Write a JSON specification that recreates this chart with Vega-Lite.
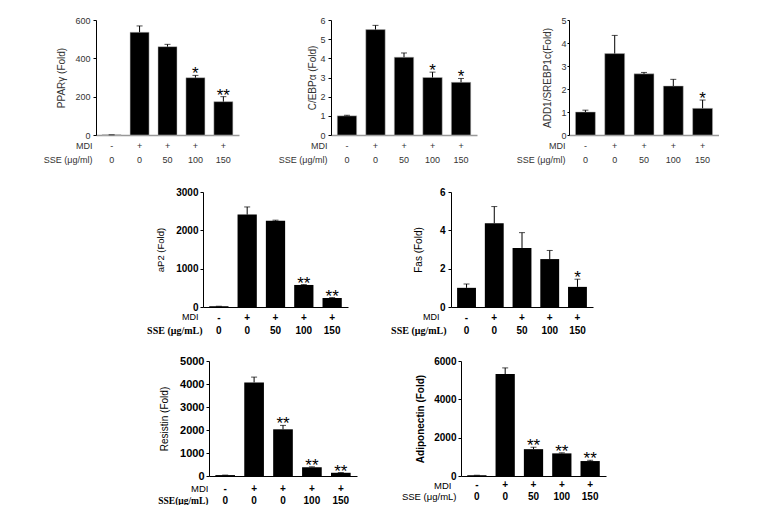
{
  "$schema": "https://vega.github.io/schema/vega-lite/v6.json",
  "padding": {"left": 43, "top": 15, "right": 0, "bottom": 0},
  "background": "white",
  "config": {
    "view": {"stroke": null},
    "font": "Liberation Sans",
    "axis": {"grid": false, "domainColor": "#000", "tickColor": "#000", "labelFont": "Liberation Sans", "titleFont": "Liberation Sans", "labelOverlap": false},
    "text": {"font": "Liberation Sans"}
  },
  "data": {"values": [
    {"panel": "PPARγ", "cat": "-|0", "value": 1, "upper": 1, "sig": ""},
    {"panel": "PPARγ", "cat": "+|0", "value": 536, "upper": 569, "sig": ""},
    {"panel": "PPARγ", "cat": "+|50", "value": 461, "upper": 473, "sig": ""},
    {"panel": "PPARγ", "cat": "+|100", "value": 299, "upper": 311, "sig": "*"},
    {"panel": "PPARγ", "cat": "+|150", "value": 174, "upper": 200, "sig": "**"},
    {"panel": "C/EBPα", "cat": "-|0", "value": 1.0, "upper": 1.03, "sig": ""},
    {"panel": "C/EBPα", "cat": "+|0", "value": 5.5, "upper": 5.72, "sig": ""},
    {"panel": "C/EBPα", "cat": "+|50", "value": 4.06, "upper": 4.28, "sig": ""},
    {"panel": "C/EBPα", "cat": "+|100", "value": 3.0, "upper": 3.28, "sig": "*"},
    {"panel": "C/EBPα", "cat": "+|150", "value": 2.75, "upper": 2.95, "sig": "*"},
    {"panel": "ADD1", "cat": "-|0", "value": 1.0, "upper": 1.08, "sig": ""},
    {"panel": "ADD1", "cat": "+|0", "value": 3.54, "upper": 4.33, "sig": ""},
    {"panel": "ADD1", "cat": "+|50", "value": 2.66, "upper": 2.72, "sig": ""},
    {"panel": "ADD1", "cat": "+|100", "value": 2.13, "upper": 2.42, "sig": ""},
    {"panel": "ADD1", "cat": "+|150", "value": 1.16, "upper": 1.52, "sig": "*"},
    {"panel": "aP2", "cat": "-|0", "value": 20, "upper": 20, "sig": ""},
    {"panel": "aP2", "cat": "+|0", "value": 2410, "upper": 2610, "sig": ""},
    {"panel": "aP2", "cat": "+|50", "value": 2250, "upper": 2265, "sig": ""},
    {"panel": "aP2", "cat": "+|100", "value": 575, "upper": 585, "sig": "**"},
    {"panel": "aP2", "cat": "+|150", "value": 235, "upper": 245, "sig": "**"},
    {"panel": "Fas", "cat": "-|0", "value": 1.0, "upper": 1.2, "sig": ""},
    {"panel": "Fas", "cat": "+|0", "value": 4.37, "upper": 5.24, "sig": ""},
    {"panel": "Fas", "cat": "+|50", "value": 3.08, "upper": 3.88, "sig": ""},
    {"panel": "Fas", "cat": "+|100", "value": 2.5, "upper": 2.95, "sig": ""},
    {"panel": "Fas", "cat": "+|150", "value": 1.05, "upper": 1.45, "sig": "*"},
    {"panel": "Resistin", "cat": "-|0", "value": 40, "upper": 40, "sig": ""},
    {"panel": "Resistin", "cat": "+|0", "value": 4070, "upper": 4300, "sig": ""},
    {"panel": "Resistin", "cat": "+|0|b", "value": 2030, "upper": 2200, "sig": "**"},
    {"panel": "Resistin", "cat": "+|100", "value": 380, "upper": 400, "sig": "**"},
    {"panel": "Resistin", "cat": "+|150", "value": 140, "upper": 150, "sig": "**"},
    {"panel": "Adiponectin", "cat": "-|0", "value": 40, "upper": 40, "sig": ""},
    {"panel": "Adiponectin", "cat": "+|0", "value": 5320, "upper": 5640, "sig": ""},
    {"panel": "Adiponectin", "cat": "+|50", "value": 1400, "upper": 1500, "sig": "**"},
    {"panel": "Adiponectin", "cat": "+|100", "value": 1180, "upper": 1210, "sig": "**"},
    {"panel": "Adiponectin", "cat": "+|150", "value": 780, "upper": 820, "sig": "**"}
  ]},
  "spacing": 20,
  "vconcat": [
    {
      "spacing": 23,
      "vconcat": [
        {
          "spacing": 39,
          "hconcat": [
            {
              "width": 143, "height": 115,
              "transform": [{"filter": "datum.panel === 'PPARγ'"}],
              "layer": [
                {"mark": {"type": "bar", "color": "#000", "stroke": "#bbb", "strokeWidth": 0.5},
                 "encoding": {
                   "x": {"field": "cat", "type": "nominal", "sort": null, "scale": {"paddingInner": 0.32, "paddingOuter": 0.22},
                         "axis": {"orient": "bottom", "domainColor": "#999", "domainWidth": 1.5, "ticks": false, "tickSize": 0, "labelPadding": 6, "labelAngle": 0, "labelExpr": "split(datum.value, '|')[0]", "labelFontSize": 9, "labelColor": "#333", "title": "MDI", "titleX": -4, "titleY": 6, "titleAlign": "right", "titleBaseline": "top", "titleFontSize": 9, "titleFontWeight": "normal", "titleColor": "#333"}},
                   "y": {"field": "value", "type": "quantitative", "scale": {"domain": [0, 600]},
                         "axis": {"values": [0, 200, 400, 600], "format": "d", "labelOverlap": false, "tickSize": 3, "labelPadding": 3, "labelFontSize": 9, "labelColor": "#333", "title": "PPARγ (Fold)", "titleFontSize": 10, "titleFontWeight": "normal", "titleColor": "#333", "titlePadding": 8}}
                 }},
                {"mark": {"type": "rule", "color": "#000", "strokeWidth": 1},
                 "encoding": {
                   "x": {"field": "cat", "type": "nominal", "sort": null,
                         "axis": {"orient": "bottom", "offset": 14, "domain": false, "ticks": false, "tickSize": 0, "labelPadding": 6, "labelAngle": 0, "labelExpr": "split(datum.value, '|')[1]", "labelFontSize": 9, "labelColor": "#333", "title": "SSE (μg/ml)", "titleX": -4, "titleY": 6, "titleAlign": "right", "titleBaseline": "top", "titleFontSize": 9, "titleFontWeight": "normal", "titleColor": "#333"}},
                   "y": {"field": "value", "type": "quantitative", "scale": {"domain": [0, 600]},
                         "axis": {"values": [0, 200, 400, 600], "format": "d", "labelOverlap": false, "tickSize": 3, "labelPadding": 3, "labelFontSize": 9, "labelColor": "#333", "title": "PPARγ (Fold)", "titleFontSize": 10, "titleFontWeight": "normal", "titleColor": "#333", "titlePadding": 8}},
                   "y2": {"field": "upper"}
                 }},
                {"mark": {"type": "tick", "orient": "horizontal", "size": 6, "thickness": 1, "color": "#000"},
                 "encoding": {
                   "x": {"field": "cat", "type": "nominal", "sort": null, "axis": null},
                   "y": {"field": "upper", "type": "quantitative", "scale": {"domain": [0, 600]},
                         "axis": {"values": [0, 200, 400, 600], "format": "d", "labelOverlap": false, "tickSize": 3, "labelPadding": 3, "labelFontSize": 9, "labelColor": "#333", "title": "PPARγ (Fold)", "titleFontSize": 10, "titleFontWeight": "normal", "titleColor": "#333", "titlePadding": 8}}
                 }},
                {"mark": {"type": "text", "fontSize": 17, "baseline": "alphabetic", "dy": 4, "color": "#000"},
                 "encoding": {
                   "x": {"field": "cat", "type": "nominal", "sort": null, "axis": null},
                   "y": {"field": "upper", "type": "quantitative", "scale": {"domain": [0, 600]},
                         "axis": {"values": [0, 200, 400, 600], "format": "d", "labelOverlap": false, "tickSize": 3, "labelPadding": 3, "labelFontSize": 9, "labelColor": "#333", "title": "PPARγ (Fold)", "titleFontSize": 10, "titleFontWeight": "normal", "titleColor": "#333", "titlePadding": 8}},
                   "text": {"field": "sig"}
                 }}
              ],
              "resolve": {"axis": {"x": "independent"}}
            },
            {
              "width": 146, "height": 115,
              "transform": [{"filter": "datum.panel === 'C/EBPα'"}],
              "layer": [
                {"mark": {"type": "bar", "color": "#000", "stroke": "#bbb", "strokeWidth": 0.5},
                 "encoding": {
                   "x": {"field": "cat", "type": "nominal", "sort": null, "scale": {"paddingInner": 0.32, "paddingOuter": 0.22},
                         "axis": {"orient": "bottom", "domainColor": "#999", "domainWidth": 1.5, "ticks": false, "tickSize": 0, "labelPadding": 6, "labelAngle": 0, "labelExpr": "split(datum.value, '|')[0]", "labelFontSize": 9, "labelColor": "#333", "title": "MDI", "titleX": -4, "titleY": 6, "titleAlign": "right", "titleBaseline": "top", "titleFontSize": 9, "titleFontWeight": "normal", "titleColor": "#333"}},
                   "y": {"field": "value", "type": "quantitative", "scale": {"domain": [0, 6]},
                         "axis": {"values": [0, 1, 2, 3, 4, 5, 6], "format": "d", "labelOverlap": false, "tickSize": 3, "labelPadding": 3, "labelFontSize": 9, "labelColor": "#333", "title": "C/EBPα (Fold)", "titleFontSize": 10, "titleFontWeight": "normal", "titleColor": "#333", "titlePadding": 2}}
                 }},
                {"mark": {"type": "rule", "color": "#000", "strokeWidth": 1},
                 "encoding": {
                   "x": {"field": "cat", "type": "nominal", "sort": null,
                         "axis": {"orient": "bottom", "offset": 14, "domain": false, "ticks": false, "tickSize": 0, "labelPadding": 6, "labelAngle": 0, "labelExpr": "split(datum.value, '|')[1]", "labelFontSize": 9, "labelColor": "#333", "title": "SSE (μg/ml)", "titleX": -4, "titleY": 6, "titleAlign": "right", "titleBaseline": "top", "titleFontSize": 9, "titleFontWeight": "normal", "titleColor": "#333"}},
                   "y": {"field": "value", "type": "quantitative", "scale": {"domain": [0, 6]},
                         "axis": {"values": [0, 1, 2, 3, 4, 5, 6], "format": "d", "labelOverlap": false, "tickSize": 3, "labelPadding": 3, "labelFontSize": 9, "labelColor": "#333", "title": "C/EBPα (Fold)", "titleFontSize": 10, "titleFontWeight": "normal", "titleColor": "#333", "titlePadding": 2}},
                   "y2": {"field": "upper"}
                 }},
                {"mark": {"type": "tick", "orient": "horizontal", "size": 6, "thickness": 1, "color": "#000"},
                 "encoding": {
                   "x": {"field": "cat", "type": "nominal", "sort": null, "axis": null},
                   "y": {"field": "upper", "type": "quantitative", "scale": {"domain": [0, 6]},
                         "axis": {"values": [0, 1, 2, 3, 4, 5, 6], "format": "d", "labelOverlap": false, "tickSize": 3, "labelPadding": 3, "labelFontSize": 9, "labelColor": "#333", "title": "C/EBPα (Fold)", "titleFontSize": 10, "titleFontWeight": "normal", "titleColor": "#333", "titlePadding": 2}}
                 }},
                {"mark": {"type": "text", "fontSize": 17, "baseline": "alphabetic", "dy": 4, "color": "#000"},
                 "encoding": {
                   "x": {"field": "cat", "type": "nominal", "sort": null, "axis": null},
                   "y": {"field": "upper", "type": "quantitative", "scale": {"domain": [0, 6]},
                         "axis": {"values": [0, 1, 2, 3, 4, 5, 6], "format": "d", "labelOverlap": false, "tickSize": 3, "labelPadding": 3, "labelFontSize": 9, "labelColor": "#333", "title": "C/EBPα (Fold)", "titleFontSize": 10, "titleFontWeight": "normal", "titleColor": "#333", "titlePadding": 2}},
                   "text": {"field": "sig"}
                 }}
              ],
              "resolve": {"axis": {"x": "independent"}}
            },
            {
              "width": 150, "height": 115,
              "transform": [{"filter": "datum.panel === 'ADD1'"}],
              "layer": [
                {"mark": {"type": "bar", "color": "#000", "stroke": "#bbb", "strokeWidth": 0.5},
                 "encoding": {
                   "x": {"field": "cat", "type": "nominal", "sort": null, "scale": {"paddingInner": 0.32, "paddingOuter": 0.22},
                         "axis": {"orient": "bottom", "domainColor": "#999", "domainWidth": 1.5, "ticks": false, "tickSize": 0, "labelPadding": 6, "labelAngle": 0, "labelExpr": "split(datum.value, '|')[0]", "labelFontSize": 9, "labelColor": "#333", "title": "MDI", "titleX": -4, "titleY": 6, "titleAlign": "right", "titleBaseline": "top", "titleFontSize": 9, "titleFontWeight": "normal", "titleColor": "#333"}},
                   "y": {"field": "value", "type": "quantitative", "scale": {"domain": [0, 5]},
                         "axis": {"values": [0, 1, 2, 3, 4, 5], "format": "d", "labelOverlap": false, "tickSize": 2, "labelPadding": 1, "labelFontSize": 9, "labelColor": "#333", "title": "ADD1/SREBP1c(Fold)", "titleFontSize": 10, "titleFontWeight": "normal", "titleColor": "#333", "titlePadding": 8}}
                 }},
                {"mark": {"type": "rule", "color": "#000", "strokeWidth": 1},
                 "encoding": {
                   "x": {"field": "cat", "type": "nominal", "sort": null,
                         "axis": {"orient": "bottom", "offset": 14, "domain": false, "ticks": false, "tickSize": 0, "labelPadding": 6, "labelAngle": 0, "labelExpr": "split(datum.value, '|')[1]", "labelFontSize": 9, "labelColor": "#333", "title": "SSE (μg/ml)", "titleX": -4, "titleY": 6, "titleAlign": "right", "titleBaseline": "top", "titleFontSize": 9, "titleFontWeight": "normal", "titleColor": "#333"}},
                   "y": {"field": "value", "type": "quantitative", "scale": {"domain": [0, 5]},
                         "axis": {"values": [0, 1, 2, 3, 4, 5], "format": "d", "labelOverlap": false, "tickSize": 2, "labelPadding": 1, "labelFontSize": 9, "labelColor": "#333", "title": "ADD1/SREBP1c(Fold)", "titleFontSize": 10, "titleFontWeight": "normal", "titleColor": "#333", "titlePadding": 8}},
                   "y2": {"field": "upper"}
                 }},
                {"mark": {"type": "tick", "orient": "horizontal", "size": 6, "thickness": 1, "color": "#000"},
                 "encoding": {
                   "x": {"field": "cat", "type": "nominal", "sort": null, "axis": null},
                   "y": {"field": "upper", "type": "quantitative", "scale": {"domain": [0, 5]},
                         "axis": {"values": [0, 1, 2, 3, 4, 5], "format": "d", "labelOverlap": false, "tickSize": 2, "labelPadding": 1, "labelFontSize": 9, "labelColor": "#333", "title": "ADD1/SREBP1c(Fold)", "titleFontSize": 10, "titleFontWeight": "normal", "titleColor": "#333", "titlePadding": 8}}
                 }},
                {"mark": {"type": "text", "fontSize": 17, "baseline": "alphabetic", "dy": 4, "color": "#000"},
                 "encoding": {
                   "x": {"field": "cat", "type": "nominal", "sort": null, "axis": null},
                   "y": {"field": "upper", "type": "quantitative", "scale": {"domain": [0, 5]},
                         "axis": {"values": [0, 1, 2, 3, 4, 5], "format": "d", "labelOverlap": false, "tickSize": 2, "labelPadding": 1, "labelFontSize": 9, "labelColor": "#333", "title": "ADD1/SREBP1c(Fold)", "titleFontSize": 10, "titleFontWeight": "normal", "titleColor": "#333", "titlePadding": 8}},
                   "text": {"field": "sig"}
                 }}
              ],
              "resolve": {"axis": {"x": "independent"}}
            }
          ]
        },
        {
          "spacing": 42,
          "hconcat": [
            {"width": 8, "height": 10, "mark": {"type": "point", "opacity": 0}, "encoding": {}},
            {
              "width": 145, "height": 115,
              "transform": [{"filter": "datum.panel === 'aP2'"}],
              "layer": [
                {"mark": {"type": "bar", "color": "#000"},
                 "encoding": {
                   "x": {"field": "cat", "type": "nominal", "sort": null, "scale": {"paddingInner": 0.32, "paddingOuter": 0.22},
                         "axis": {"orient": "bottom", "ticks": false, "tickSize": 0, "labelPadding": 5, "labelAngle": 0, "labelExpr": "split(datum.value, '|')[0]", "labelFontSize": 10, "labelFontWeight": "bold", "labelColor": "#000", "title": "MDI", "titleX": -5, "titleY": 5, "titleAlign": "right", "titleBaseline": "top", "titleFontSize": 9, "titleFontWeight": "normal", "titleColor": "#000"}},
                   "y": {"field": "value", "type": "quantitative", "scale": {"domain": [0, 3000]},
                         "axis": {"values": [0, 1000, 2000, 3000], "format": "d", "labelOverlap": false, "tickSize": 3, "labelPadding": 2, "labelFontSize": 10, "labelFontWeight": "bold", "labelColor": "#000", "title": "aP2 (Fold)", "titleFontSize": 9.5, "titleFontWeight": "normal", "titleColor": "#000", "titlePadding": 10}}
                 }},
                {"mark": {"type": "rule", "color": "#000", "strokeWidth": 1},
                 "encoding": {
                   "x": {"field": "cat", "type": "nominal", "sort": null,
                         "axis": {"orient": "bottom", "offset": 13, "domain": false, "ticks": false, "tickSize": 0, "labelPadding": 5, "labelAngle": 0, "labelExpr": "split(datum.value, '|')[1]", "labelFontSize": 10, "labelFontWeight": "bold", "labelColor": "#000", "title": "SSE (μg/mL)", "titleX": -1, "titleY": 5, "titleAlign": "right", "titleBaseline": "top", "titleFont": "Liberation Serif", "titleFontSize": 10, "titleFontWeight": "bold", "titleColor": "#000"}},
                   "y": {"field": "value", "type": "quantitative", "scale": {"domain": [0, 3000]},
                         "axis": {"values": [0, 1000, 2000, 3000], "format": "d", "labelOverlap": false, "tickSize": 3, "labelPadding": 2, "labelFontSize": 10, "labelFontWeight": "bold", "labelColor": "#000", "title": "aP2 (Fold)", "titleFontSize": 9.5, "titleFontWeight": "normal", "titleColor": "#000", "titlePadding": 10}},
                   "y2": {"field": "upper"}
                 }},
                {"mark": {"type": "tick", "orient": "horizontal", "size": 6, "thickness": 1, "color": "#000"},
                 "encoding": {
                   "x": {"field": "cat", "type": "nominal", "sort": null, "axis": null},
                   "y": {"field": "upper", "type": "quantitative", "scale": {"domain": [0, 3000]},
                         "axis": {"values": [0, 1000, 2000, 3000], "format": "d", "labelOverlap": false, "tickSize": 3, "labelPadding": 2, "labelFontSize": 10, "labelFontWeight": "bold", "labelColor": "#000", "title": "aP2 (Fold)", "titleFontSize": 9.5, "titleFontWeight": "normal", "titleColor": "#000", "titlePadding": 10}}
                 }},
                {"mark": {"type": "text", "fontSize": 17, "baseline": "alphabetic", "dy": 4, "color": "#000"},
                 "encoding": {
                   "x": {"field": "cat", "type": "nominal", "sort": null, "axis": null},
                   "y": {"field": "upper", "type": "quantitative", "scale": {"domain": [0, 3000]},
                         "axis": {"values": [0, 1000, 2000, 3000], "format": "d", "labelOverlap": false, "tickSize": 3, "labelPadding": 2, "labelFontSize": 10, "labelFontWeight": "bold", "labelColor": "#000", "title": "aP2 (Fold)", "titleFontSize": 9.5, "titleFontWeight": "normal", "titleColor": "#000", "titlePadding": 10}},
                   "text": {"field": "sig"}
                 }}
              ],
              "resolve": {"axis": {"x": "independent"}}
            },
            {
              "width": 142, "height": 115,
              "transform": [{"filter": "datum.panel === 'Fas'"}],
              "layer": [
                {"mark": {"type": "bar", "color": "#000"},
                 "encoding": {
                   "x": {"field": "cat", "type": "nominal", "sort": null, "scale": {"paddingInner": 0.32, "paddingOuter": 0.22},
                         "axis": {"orient": "bottom", "ticks": false, "tickSize": 0, "labelPadding": 5, "labelAngle": 0, "labelExpr": "split(datum.value, '|')[0]", "labelFontSize": 10, "labelFontWeight": "bold", "labelColor": "#000", "title": "MDI", "titleX": -12, "titleY": 5, "titleAlign": "right", "titleBaseline": "top", "titleFontSize": 9, "titleFontWeight": "normal", "titleColor": "#000"}},
                   "y": {"field": "value", "type": "quantitative", "scale": {"domain": [0, 6]},
                         "axis": {"values": [0, 2, 4, 6], "format": "d", "labelOverlap": false, "tickSize": 3, "labelPadding": 3, "labelFontSize": 10, "labelFontWeight": "bold", "labelColor": "#000", "title": "Fas (Fold)", "titleFontSize": 10, "titleFontWeight": "normal", "titleColor": "#000", "titlePadding": 16}}
                 }},
                {"mark": {"type": "rule", "color": "#000", "strokeWidth": 1},
                 "encoding": {
                   "x": {"field": "cat", "type": "nominal", "sort": null,
                         "axis": {"orient": "bottom", "offset": 13, "domain": false, "ticks": false, "tickSize": 0, "labelPadding": 5, "labelAngle": 0, "labelExpr": "split(datum.value, '|')[1]", "labelFontSize": 10, "labelFontWeight": "bold", "labelColor": "#000", "title": "SSE (μg/mL)", "titleX": -5, "titleY": 5, "titleAlign": "right", "titleBaseline": "top", "titleFont": "Liberation Serif", "titleFontSize": 10, "titleFontWeight": "bold", "titleColor": "#000"}},
                   "y": {"field": "value", "type": "quantitative", "scale": {"domain": [0, 6]},
                         "axis": {"values": [0, 2, 4, 6], "format": "d", "labelOverlap": false, "tickSize": 3, "labelPadding": 3, "labelFontSize": 10, "labelFontWeight": "bold", "labelColor": "#000", "title": "Fas (Fold)", "titleFontSize": 10, "titleFontWeight": "normal", "titleColor": "#000", "titlePadding": 16}},
                   "y2": {"field": "upper"}
                 }},
                {"mark": {"type": "tick", "orient": "horizontal", "size": 6, "thickness": 1, "color": "#000"},
                 "encoding": {
                   "x": {"field": "cat", "type": "nominal", "sort": null, "axis": null},
                   "y": {"field": "upper", "type": "quantitative", "scale": {"domain": [0, 6]},
                         "axis": {"values": [0, 2, 4, 6], "format": "d", "labelOverlap": false, "tickSize": 3, "labelPadding": 3, "labelFontSize": 10, "labelFontWeight": "bold", "labelColor": "#000", "title": "Fas (Fold)", "titleFontSize": 10, "titleFontWeight": "normal", "titleColor": "#000", "titlePadding": 16}}
                 }},
                {"mark": {"type": "text", "fontSize": 17, "baseline": "alphabetic", "dy": 4, "color": "#000"},
                 "encoding": {
                   "x": {"field": "cat", "type": "nominal", "sort": null, "axis": null},
                   "y": {"field": "upper", "type": "quantitative", "scale": {"domain": [0, 6]},
                         "axis": {"values": [0, 2, 4, 6], "format": "d", "labelOverlap": false, "tickSize": 3, "labelPadding": 3, "labelFontSize": 10, "labelFontWeight": "bold", "labelColor": "#000", "title": "Fas (Fold)", "titleFontSize": 10, "titleFontWeight": "normal", "titleColor": "#000", "titlePadding": 16}},
                   "text": {"field": "sig"}
                 }}
              ],
              "resolve": {"axis": {"x": "independent"}}
            }
          ]
        }
      ]
    },
    {
      "spacing": 44,
      "hconcat": [
        {"width": 17, "height": 10, "mark": {"type": "point", "opacity": 0}, "encoding": {}},
        {
          "width": 148, "height": 115,
          "transform": [{"filter": "datum.panel === 'Resistin'"}],
          "layer": [
            {"mark": {"type": "bar", "color": "#000"},
             "encoding": {
               "x": {"field": "cat", "type": "nominal", "sort": null, "scale": {"paddingInner": 0.32, "paddingOuter": 0.22},
                     "axis": {"orient": "bottom", "ticks": false, "tickSize": 0, "labelPadding": 7, "labelAngle": 0, "labelExpr": "split(datum.value, '|')[0]", "labelFontSize": 10, "labelFontWeight": "bold", "labelColor": "#000", "title": "MDI", "titleX": -1, "titleY": 7, "titleAlign": "right", "titleBaseline": "top", "titleFontSize": 9.5, "titleFontWeight": "normal", "titleColor": "#000"}},
               "y": {"field": "value", "type": "quantitative", "scale": {"domain": [0, 5000]},
                     "axis": {"values": [0, 1000, 2000, 3000, 4000, 5000], "format": "d", "labelOverlap": false, "tickSize": 3, "labelPadding": 2, "labelFontSize": 11, "labelFontWeight": "bold", "labelColor": "#000", "title": "Resistin (Fold)", "titleFontSize": 10, "titleFontWeight": "normal", "titleColor": "#000", "titlePadding": 10}}
             }},
            {"mark": {"type": "rule", "color": "#000", "strokeWidth": 1},
             "encoding": {
               "x": {"field": "cat", "type": "nominal", "sort": null,
                     "axis": {"orient": "bottom", "offset": 12, "domain": false, "ticks": false, "tickSize": 0, "labelPadding": 7, "labelAngle": 0, "labelExpr": "split(datum.value, '|')[1]", "labelFontSize": 10, "labelFontWeight": "bold", "labelColor": "#000", "title": "SSE(μg/mL)", "titleX": -1, "titleY": 7, "titleAlign": "right", "titleBaseline": "top", "titleFont": "Liberation Serif", "titleFontSize": 9.5, "titleFontWeight": "bold", "titleColor": "#000"}},
               "y": {"field": "value", "type": "quantitative", "scale": {"domain": [0, 5000]},
                     "axis": {"values": [0, 1000, 2000, 3000, 4000, 5000], "format": "d", "labelOverlap": false, "tickSize": 3, "labelPadding": 2, "labelFontSize": 11, "labelFontWeight": "bold", "labelColor": "#000", "title": "Resistin (Fold)", "titleFontSize": 10, "titleFontWeight": "normal", "titleColor": "#000", "titlePadding": 10}},
               "y2": {"field": "upper"}
             }},
            {"mark": {"type": "tick", "orient": "horizontal", "size": 6, "thickness": 1, "color": "#000"},
             "encoding": {
               "x": {"field": "cat", "type": "nominal", "sort": null, "axis": null},
               "y": {"field": "upper", "type": "quantitative", "scale": {"domain": [0, 5000]},
                     "axis": {"values": [0, 1000, 2000, 3000, 4000, 5000], "format": "d", "labelOverlap": false, "tickSize": 3, "labelPadding": 2, "labelFontSize": 11, "labelFontWeight": "bold", "labelColor": "#000", "title": "Resistin (Fold)", "titleFontSize": 10, "titleFontWeight": "normal", "titleColor": "#000", "titlePadding": 10}}
             }},
            {"mark": {"type": "text", "fontSize": 17, "baseline": "alphabetic", "dy": 4, "color": "#000"},
             "encoding": {
               "x": {"field": "cat", "type": "nominal", "sort": null, "axis": null},
               "y": {"field": "upper", "type": "quantitative", "scale": {"domain": [0, 5000]},
                     "axis": {"values": [0, 1000, 2000, 3000, 4000, 5000], "format": "d", "labelOverlap": false, "tickSize": 3, "labelPadding": 2, "labelFontSize": 11, "labelFontWeight": "bold", "labelColor": "#000", "title": "Resistin (Fold)", "titleFontSize": 10, "titleFontWeight": "normal", "titleColor": "#000", "titlePadding": 10}},
               "text": {"field": "sig"}
             }}
          ],
          "resolve": {"axis": {"x": "independent"}}
        },
        {
          "width": 145, "height": 115,
          "transform": [{"filter": "datum.panel === 'Adiponectin'"}],
          "layer": [
            {"mark": {"type": "bar", "color": "#000"},
             "encoding": {
               "x": {"field": "cat", "type": "nominal", "sort": null, "scale": {"paddingInner": 0.32, "paddingOuter": 0.22},
                     "axis": {"orient": "bottom", "ticks": false, "tickSize": 0, "labelPadding": 3, "labelAngle": 0, "labelExpr": "split(datum.value, '|')[0]", "labelFontSize": 10, "labelFontWeight": "bold", "labelColor": "#000", "title": "MDI", "titleX": -10, "titleY": 4, "titleAlign": "right", "titleBaseline": "top", "titleFontSize": 9.5, "titleFontWeight": "normal", "titleColor": "#000"}},
               "y": {"field": "value", "type": "quantitative", "scale": {"domain": [0, 6000]},
                     "axis": {"values": [0, 2000, 4000, 6000], "format": "d", "labelOverlap": false, "tickSize": 3, "labelPadding": 2, "labelFontSize": 10, "labelFontWeight": "bold", "labelColor": "#000", "title": "Adiponectin (Fold)", "titleFontSize": 10, "titleFontWeight": "bold", "titleColor": "#000", "titlePadding": 8}}
             }},
            {"mark": {"type": "rule", "color": "#000", "strokeWidth": 1},
             "encoding": {
               "x": {"field": "cat", "type": "nominal", "sort": null,
                     "axis": {"orient": "bottom", "offset": 12, "domain": false, "ticks": false, "tickSize": 0, "labelPadding": 3, "labelAngle": 0, "labelExpr": "split(datum.value, '|')[1]", "labelFontSize": 10, "labelFontWeight": "bold", "labelColor": "#000", "title": "SSE (μg/mL)", "titleX": -5, "titleY": 3, "titleAlign": "right", "titleBaseline": "top", "titleFontSize": 9.5, "titleFontWeight": "normal", "titleColor": "#000"}},
               "y": {"field": "value", "type": "quantitative", "scale": {"domain": [0, 6000]},
                     "axis": {"values": [0, 2000, 4000, 6000], "format": "d", "labelOverlap": false, "tickSize": 3, "labelPadding": 2, "labelFontSize": 10, "labelFontWeight": "bold", "labelColor": "#000", "title": "Adiponectin (Fold)", "titleFontSize": 10, "titleFontWeight": "bold", "titleColor": "#000", "titlePadding": 8}},
               "y2": {"field": "upper"}
             }},
            {"mark": {"type": "tick", "orient": "horizontal", "size": 6, "thickness": 1, "color": "#000"},
             "encoding": {
               "x": {"field": "cat", "type": "nominal", "sort": null, "axis": null},
               "y": {"field": "upper", "type": "quantitative", "scale": {"domain": [0, 6000]},
                     "axis": {"values": [0, 2000, 4000, 6000], "format": "d", "labelOverlap": false, "tickSize": 3, "labelPadding": 2, "labelFontSize": 10, "labelFontWeight": "bold", "labelColor": "#000", "title": "Adiponectin (Fold)", "titleFontSize": 10, "titleFontWeight": "bold", "titleColor": "#000", "titlePadding": 8}}
             }},
            {"mark": {"type": "text", "fontSize": 17, "baseline": "alphabetic", "dy": 4, "color": "#000"},
             "encoding": {
               "x": {"field": "cat", "type": "nominal", "sort": null, "axis": null},
               "y": {"field": "upper", "type": "quantitative", "scale": {"domain": [0, 6000]},
                     "axis": {"values": [0, 2000, 4000, 6000], "format": "d", "labelOverlap": false, "tickSize": 3, "labelPadding": 2, "labelFontSize": 10, "labelFontWeight": "bold", "labelColor": "#000", "title": "Adiponectin (Fold)", "titleFontSize": 10, "titleFontWeight": "bold", "titleColor": "#000", "titlePadding": 8}},
               "text": {"field": "sig"}
             }}
          ],
          "resolve": {"axis": {"x": "independent"}}
        }
      ]
    }
  ]
}
